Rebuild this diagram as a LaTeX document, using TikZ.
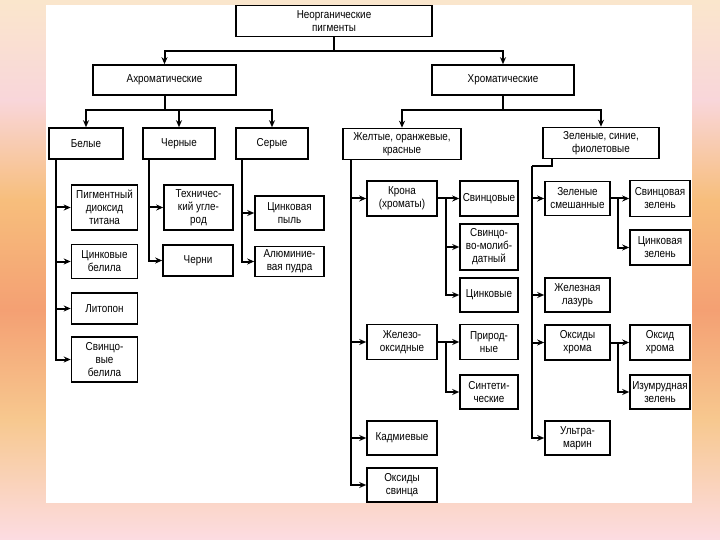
\documentclass[tikz,border=0pt]{standalone}
\usepackage{fontspec}
\setmainfont{Liberation Sans}[FakeStretch=0.86]
\usetikzlibrary{arrows.meta, calc}

\definecolor{bgA}{HTML}{FAE6CC}
\definecolor{bgB}{HTML}{F9D6DA}
\definecolor{bgC}{HTML}{F7BE7C}
\definecolor{bgD}{HTML}{F4A073}
\definecolor{bgE}{HTML}{F7C88F}
\definecolor{bgF}{HTML}{FCDCE2}

\begin{document}
\begin{tikzpicture}[
    x=1pt, y=-1pt,
    box/.style={draw, line width=1.6pt, fill=white, align=center, inner sep=1pt, font=\fontsize{11.5}{13}\selectfont},
    grp/.style={box, minimum height=31pt},
    leaf/.style={box, minimum width=66pt, minimum height=34pt},
    link/.style={line width=2pt},
    arr/.style={-{Stealth[length=7pt, width=6pt]}, line width=2pt}
]
% Background
\useasboundingbox (0,0) rectangle (720,540);
\shade[top color=bgA, bottom color=bgB] (0,0) rectangle (720,100);
\shade[top color=bgB, bottom color=bgC] (0,100) rectangle (720,200);
\shade[top color=bgC, bottom color=bgD] (0,200) rectangle (720,310);
\shade[top color=bgD, bottom color=bgE] (0,310) rectangle (720,420);
\shade[top color=bgE, bottom color=bgF] (0,420) rectangle (720,540);
\fill[white] (46,5) rectangle (692,503);

% Upper levels
\node[box, minimum width=196pt, minimum height=31pt] (root) at (334,21) {Неорганические\\пигменты};
\node[box, minimum width=143pt, minimum height=30pt] (achrom) at (164.5,80) {Ахроматические};
\node[box, minimum width=142pt, minimum height=30pt] (chrom) at (503,80) {Хроматические};
\node[grp, minimum width=74pt] (white) at (86,143.5) {Белые};
\node[grp, minimum width=72pt] (black) at (179,143.5) {Черные};
\node[grp, minimum width=72pt] (grey) at (272,143.5) {Серые};
\node[grp, minimum width=118pt] (warm) at (402,144) {Желтые, оранжевые,\\красные};
\node[grp, minimum width=116pt] (cold) at (601,143) {Зеленые, синие,\\фиолетовые};

% Achromatic pigments
\node[leaf, minimum height=45pt] (titan) at (104.5,207.5) {Пигментный\\диоксид\\титана};
\node[leaf] (zincw) at (104.5,261.5) {Цинковые\\белила};
\node[leaf, minimum height=31pt] (lithop) at (104.5,308.5) {Литопон};
\node[leaf, minimum height=45pt] (leadw) at (104.5,359.5) {Свинцо-\\вые\\белила};
\node[leaf, minimum width=69pt, minimum height=45pt] (carbon) at (198.5,207.5) {Техничес-\\кий угле-\\род};
\node[leaf, minimum width=70pt, minimum height=31pt] (blacks) at (198,260.5) {Черни};
\node[leaf, minimum width=69pt] (zdust) at (289.5,213) {Цинковая\\пыль};
\node[leaf, minimum width=69pt, minimum height=30pt] (alpowder) at (289.5,261.5) {Алюминие-\\вая пудра};

% Chromatic pigments
\node[leaf, minimum width=70pt, minimum height=35pt] (crown) at (402,198.5) {Крона\\(хроматы)};
\node[leaf, minimum width=70pt, minimum height=35pt] (ironox) at (402,342) {Железо-\\оксидные};
\node[leaf, minimum width=70pt] (cadm) at (402,438) {Кадмиевые};
\node[leaf, minimum width=70pt] (leadox) at (402,485) {Оксиды\\свинца};
\node[leaf, minimum width=58pt, minimum height=35pt] (crlead) at (489,198.5) {Свинцовые};
\node[leaf, minimum width=58pt, minimum height=46pt] (crmolyb) at (489,247) {Свинцо-\\во-молиб-\\датный};
\node[leaf, minimum width=58pt] (crzinc) at (489,295) {Цинковые};
\node[leaf, minimum width=58pt, minimum height=35pt] (natural) at (489,342) {Природ-\\ные};
\node[leaf, minimum width=58pt] (synth) at (489,392) {Синтети-\\ческие};
\node[leaf, minimum width=65pt] (mixgreen) at (577.5,198.5) {Зеленые\\смешанные};
\node[leaf, minimum width=65pt] (prussian) at (577.5,295) {Железная\\лазурь};
\node[leaf, minimum width=65pt, minimum height=35pt] (chromox) at (577.5,342.5) {Оксиды\\хрома};
\node[leaf, minimum width=65pt] (ultra) at (577.5,438) {Ультра-\\марин};
\node[leaf, minimum width=60pt, minimum height=36pt] (leadgreen) at (660,198.5) {Свинцовая\\зелень};
\node[leaf, minimum width=60pt, minimum height=35pt] (zincgreen) at (660,247.5) {Цинковая\\зелень};
\node[leaf, minimum width=60pt, minimum height=35pt] (chromoxide) at (660,342.5) {Оксид\\хрома};
\node[leaf, minimum width=60pt] (emerald) at (660,392) {Изумрудная\\зелень};

% Upper connectors
\coordinate (bus1) at (334,51);
\coordinate (bus2) at (164.5,110);
\coordinate (bus3) at (503,110);
\draw[link] (root) -- (bus1);
\draw[arr] (bus1) -| (achrom);
\draw[arr] (bus1) -| (chrom);
\draw[link] (achrom) -- (bus2);
\draw[arr] (bus2) -| (white);
\draw[arr] (bus2) -| (black);
\draw[arr] (bus2) -| (grey);
\draw[link] (chrom) -- (bus3);
\draw[arr] (bus3) -| (warm);
\draw[arr] (bus3) -| (cold);

% Trunks
\coordinate (whiteT) at ([xshift=8pt]white.south west);
\coordinate (blackT) at ([xshift=7pt]black.south west);
\coordinate (greyT) at ([xshift=7pt]grey.south west);
\coordinate (warmT) at ([xshift=9pt]warm.south west);
\coordinate (coldT) at (532,166);
\draw[arr] (whiteT) |- (titan);
\draw[arr] (whiteT) |- (zincw);
\draw[arr] (whiteT) |- (lithop);
\draw[arr] (whiteT) |- (leadw);
\draw[arr] (blackT) |- (carbon);
\draw[arr] (blackT) |- (blacks);
\draw[arr] (greyT) |- (zdust);
\draw[arr] (greyT) |- (alpowder);
\draw[arr] (warmT) |- (crown);
\draw[arr] (warmT) |- (ironox);
\draw[arr] (warmT) |- (cadm);
\draw[arr] (warmT) |- (leadox);
\draw[link] ([xshift=10pt]cold.south west) |- (coldT);
\draw[arr] (coldT) |- (mixgreen);
\draw[arr] (coldT) |- (prussian);
\draw[arr] (coldT) |- (chromox);
\draw[arr] (coldT) |- (ultra);

% Sub-branches
\coordinate (crownT) at ($(crown.east)!0.4!(crlead.west)$);
\coordinate (ironT) at ($(ironox.east)!0.4!(natural.west)$);
\coordinate (mixT) at ($(mixgreen.east)!0.4!(leadgreen.west)$);
\coordinate (chromT) at ($(chromox.east)!0.4!(chromoxide.west)$);
\draw[arr] (crown) -- (crlead);
\draw[arr] (crownT) |- (crmolyb);
\draw[arr] (crownT) |- (crzinc);
\draw[arr] (ironox) -- (natural);
\draw[arr] (ironT) |- (synth);
\draw[arr] (mixgreen) -- (leadgreen);
\draw[arr] (mixT) |- (zincgreen);
\draw[arr] (chromox) -- (chromoxide);
\draw[arr] (chromT) |- (emerald);

\end{tikzpicture}
\end{document}
